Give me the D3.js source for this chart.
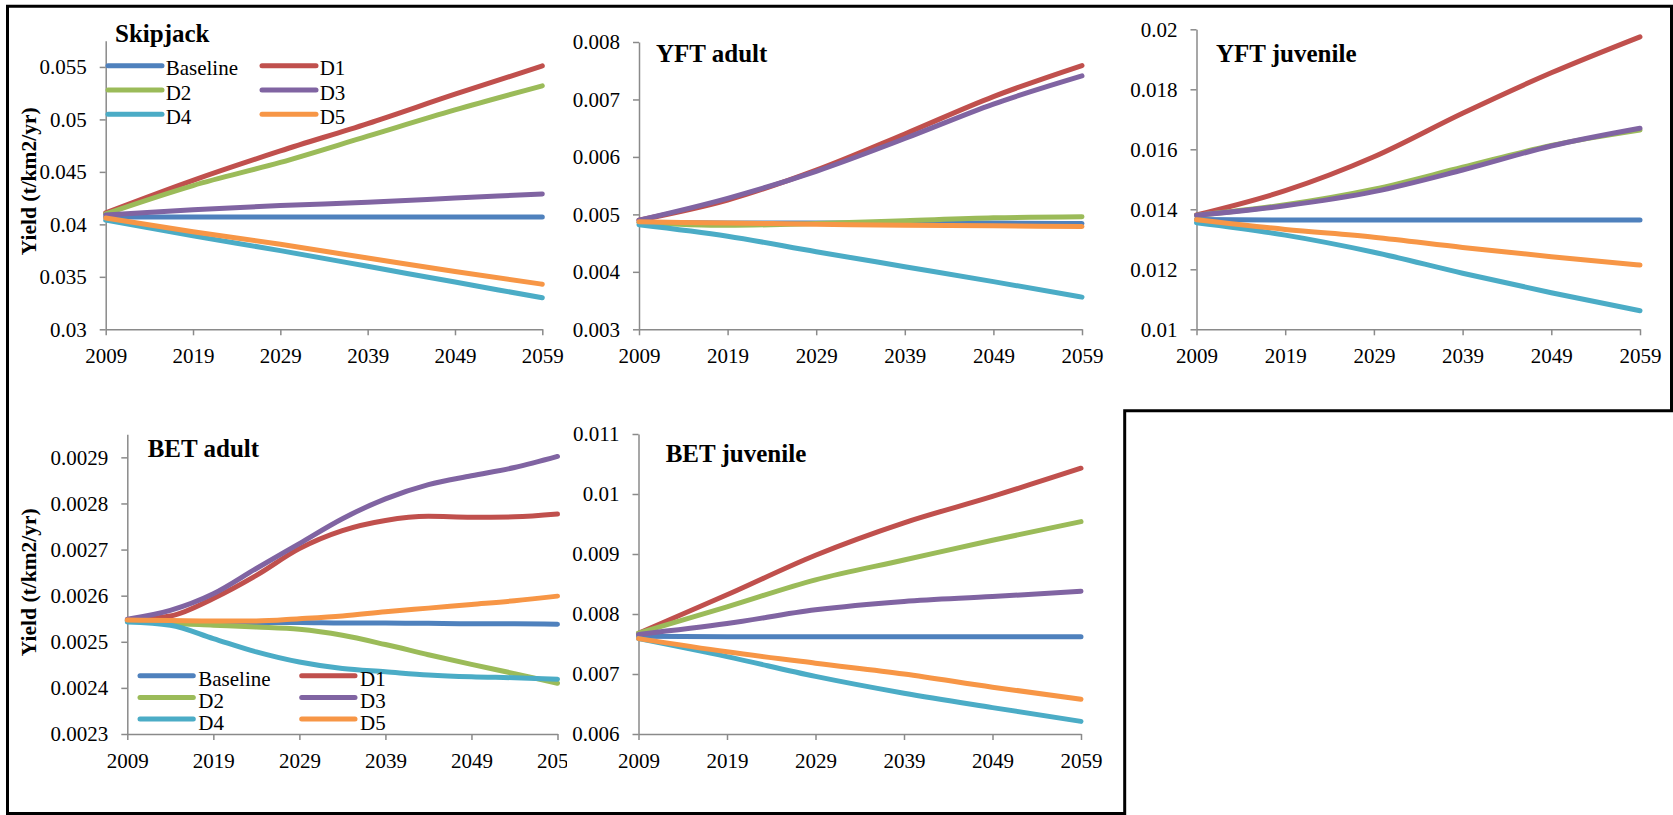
<!DOCTYPE html>
<html><head><meta charset="utf-8">
<script src="https://cdn.jsdelivr.net/npm/d3@7"></script>
<style>
body{margin:0;background:#fff}
svg{display:block}
svg text{font-family:"Liberation Serif","Times New Roman",serif !important}
</style>
</head><body>
<svg id="chart" width="1673" height="815"></svg>
<script>
// ---------- DATA ----------
const seriesNames = ["Baseline", "D1", "D2", "D3", "D4", "D5"];
const years10 = [2009, 2019, 2029, 2039, 2049, 2059];
const years5 = [2009, 2014, 2019, 2024, 2029, 2034, 2039, 2044, 2049, 2054, 2059];
const xTickYears = [2009, 2019, 2029, 2039, 2049, 2059];

// Skipjack (order: Baseline, D1..D5)
const skipjackValues = [
  [0.0407, 0.0407, 0.0407, 0.0407, 0.0407, 0.0407],
  [0.0411, 0.0442, 0.0470, 0.0496, 0.0524, 0.0551],
  [0.0410, 0.0437, 0.0459, 0.0484, 0.0509, 0.0532],
  [0.0409, 0.0414, 0.0418, 0.0421, 0.0425, 0.0429],
  [0.0404, 0.0389, 0.0375, 0.0360, 0.0345, 0.0330],
  [0.0406, 0.0393, 0.0381, 0.0368, 0.0355, 0.0343]
];
const skipjackTicks = [0.03, 0.035, 0.04, 0.045, 0.05, 0.055];

const yftAdultValues = [
  [0.00486, 0.00485, 0.00485, 0.00485, 0.00485, 0.00484],
  [0.00490, 0.00525, 0.00577, 0.00640, 0.00705, 0.00759],
  [0.00486, 0.00481, 0.00484, 0.00489, 0.00494, 0.00496],
  [0.00490, 0.00528, 0.00575, 0.00632, 0.00692, 0.00741],
  [0.00482, 0.00462, 0.00435, 0.00409, 0.00383, 0.00356],
  [0.00487, 0.00485, 0.00483, 0.00481, 0.00480, 0.00479]
];
const yftAdultTicks = [0.003, 0.004, 0.005, 0.006, 0.007, 0.008];

const yftJuvValues = [
  [0.01366, 0.01364, 0.01364, 0.01364, 0.01364, 0.01364],
  [0.01381, 0.01462, 0.01575, 0.01720, 0.01855, 0.01975],
  [0.01380, 0.01415, 0.01467, 0.01540, 0.01613, 0.01664],
  [0.01380, 0.01412, 0.01459, 0.01531, 0.01611, 0.01670],
  [0.01355, 0.01314, 0.01257, 0.01187, 0.01122, 0.01062],
  [0.01365, 0.01333, 0.01307, 0.01273, 0.01242, 0.01214]
];
const yftJuvTicks = [0.01, 0.012, 0.014, 0.016, 0.018, 0.02];

const betAdultValues = [
  [0.002545, 0.002544, 0.002543, 0.002542, 0.002542, 0.002541, 0.002541, 0.002540, 0.002539, 0.002539, 0.002538],
  [0.002547, 0.002556, 0.002594, 0.002644, 0.002702, 0.002741, 0.002763, 0.002772, 0.002770, 0.002771, 0.002777],
  [0.002546, 0.002540, 0.002536, 0.002532, 0.002527, 0.002514, 0.002494, 0.002472, 0.002451, 0.002431, 0.002410],
  [0.002549, 0.002568, 0.002604, 0.002659, 0.002713, 0.002767, 0.002810, 0.002841, 0.002860, 0.002878, 0.002902],
  [0.002543, 0.002536, 0.002507, 0.002478, 0.002456, 0.002442, 0.002435, 0.002428, 0.002424, 0.002422, 0.002419],
  [0.002547, 0.002546, 0.002545, 0.002545, 0.002550, 0.002556, 0.002565, 0.002573, 0.002581, 0.002589, 0.002599]
];
const betAdultTicks = [0.0023, 0.0024, 0.0025, 0.0026, 0.0027, 0.0028, 0.0029];

const betJuvValues = [
  [0.00763, 0.00762, 0.00762, 0.00762, 0.00762, 0.00762],
  [0.00768, 0.00832, 0.00898, 0.00952, 0.00996, 0.01043],
  [0.00768, 0.00812, 0.00857, 0.00890, 0.00923, 0.00954],
  [0.00766, 0.00784, 0.00807, 0.00821, 0.00829, 0.00838],
  [0.00759, 0.00729, 0.00696, 0.00668, 0.00644, 0.00621],
  [0.00759, 0.00737, 0.00718, 0.00700, 0.00678, 0.00658]
];
const betJuvTicks = [0.006, 0.007, 0.008, 0.009, 0.01, 0.011];

const yAxisTitle = "Yield (t/km2/yr)";

// ---------- STYLE / LAYOUT ----------
const colors = ["#4F81BD", "#C0504D", "#9BBB59", "#8064A2", "#4BACC6", "#F79646"];
const serif = '"Liberation Serif","Times New Roman",serif';

const panels = [
  {title: "Skipjack", years: years10, values: skipjackValues, ticks: skipjackTicks, yMax: 0.0575,
   x0: 105.7, x1: 542.3, yb: 329.3, yt: 40.7, tx: 115, ty: 41.7,
   legend: {x: 108, y: 65.7, dy: 24.3, col: 154, len: 54, gap: 3.7, tdy: 9.5},
   ylab: {x: 36, y: 181.3}},
  {title: "YFT adult", years: years10, values: yftAdultValues, ticks: yftAdultTicks, yMax: 0.008,
   x0: 639, x1: 1082, yb: 329.3, yt: 42, tx: 656, ty: 62.3},
  {title: "YFT juvenile", years: years10, values: yftJuvValues, ticks: yftJuvTicks, yMax: 0.02,
   x0: 1196.5, x1: 1640, yb: 329.3, yt: 29.3, tx: 1216, ty: 61.7},
  {title: "BET adult", years: years5, values: betAdultValues, ticks: betAdultTicks, yMax: 0.00295,
   x0: 127.3, x1: 557.5, yb: 734, yt: 434.3, tx: 147.7, ty: 456.7, clipRight: 567,
   legend: {x: 140, y: 675.7, dy: 21.7, col: 161.7, len: 53.3, gap: 5, tdy: 10.5},
   ylab: {x: 36, y: 582.2}},
  {title: "BET juvenile", years: years10, values: betJuvValues, ticks: betJuvTicks, yMax: 0.011,
   x0: 638.5, x1: 1081, yb: 734, yt: 434, tx: 665.7, ty: 461.7}
];

const svg = d3.select("#chart");
svg.append("rect").attr("width", 1673).attr("height", 815).attr("fill", "#fff");

const fmt = d => String(+d.toFixed(6));
const axisColor = "#8a8a8a";

panels.forEach((p, pi) => {
  const g = svg.append("g");
  if (p.clipRight) {
    svg.append("clipPath").attr("id", "clip" + pi)
      .append("rect").attr("x", 0).attr("y", 0).attr("width", p.clipRight).attr("height", 815);
    g.attr("clip-path", `url(#clip${pi})`);
  }
  const x = d3.scaleLinear().domain([2009, 2059]).range([p.x0, p.x1]);
  const y = d3.scaleLinear().domain([p.ticks[0], p.yMax]).range([p.yb, p.yt]);

  const ya = g.append("g").attr("transform", `translate(${p.x0},0)`)
    .call(d3.axisLeft(y).tickValues(p.ticks).tickFormat(fmt).tickSize(6).tickSizeOuter(0).tickPadding(13));
  const xa = g.append("g").attr("transform", `translate(0,${p.yb})`)
    .call(d3.axisBottom(x).tickValues(xTickYears).tickFormat(d3.format("d")).tickSize(6).tickSizeOuter(0));
  [ya, xa].forEach(a => {
    a.attr("font-family", serif).attr("font-size", 21);
    a.select(".domain").attr("stroke", axisColor).attr("stroke-width", 1.5);
    a.selectAll(".tick line").attr("stroke", axisColor).attr("stroke-width", 1.5);
    a.selectAll(".tick text").attr("fill", "#000").style("font-size", "21px").style("font-family", serif);
  });
  xa.selectAll(".tick text").attr("y", 34).attr("dy", "0");

  const line = d3.line()
    .x((d, i) => x(p.years[i]))
    .y(d => y(d))
    .curve(d3.curveMonotoneX);
  p.values.forEach((vals, si) => {
    g.append("path").datum(vals).attr("d", line)
      .attr("fill", "none").attr("stroke", colors[si])
      .attr("stroke-width", 5).attr("stroke-linecap", "round").attr("stroke-linejoin", "round");
  });

  g.append("text").attr("x", p.tx).attr("y", p.ty).text(p.title)
    .style("font-family", serif).style("font-size", "25px").style("font-weight", "bold").attr("fill", "#000");

  if (p.legend) {
    const L = p.legend;
    seriesNames.forEach((name, si) => {
      const cx = L.x + (si % 2) * L.col;
      const cy = L.y + Math.floor(si / 2) * L.dy;
      g.append("line").attr("x1", cx).attr("x2", cx + L.len).attr("y1", cy).attr("y2", cy)
        .attr("stroke", colors[si]).attr("stroke-width", 5).attr("stroke-linecap", "round");
      g.append("text").attr("x", cx + L.len + L.gap).attr("y", cy + L.tdy).text(name)
        .style("font-family", serif).style("font-size", "21px").attr("fill", "#000");
    });
  }

  if (p.ylab) {
    g.append("text").attr("transform", `translate(${p.ylab.x},${p.ylab.y}) rotate(-90)`)
      .attr("text-anchor", "middle").text(yAxisTitle)
      .style("font-family", serif).style("font-size", "21.5px").style("font-weight", "bold").attr("fill", "#000");
  }
});

svg.append("path")
  .attr("d", "M7.5,6.3 L1671.5,6.3 L1671.5,410.7 L1124.7,410.7 L1124.7,813.5 L7.5,813.5 Z")
  .attr("fill", "none").attr("stroke", "#000").attr("stroke-width", 3);
</script>
</body></html>
